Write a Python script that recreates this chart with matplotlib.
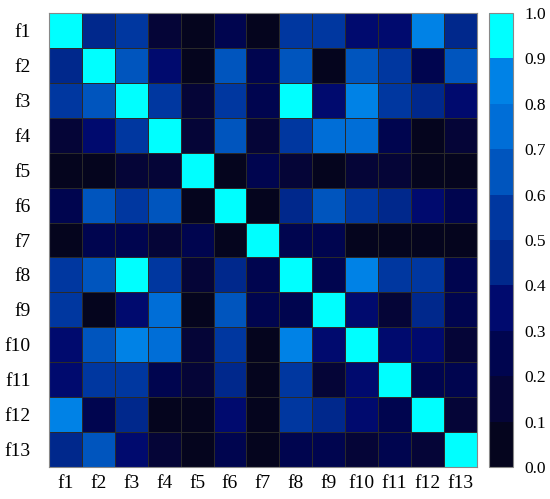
import numpy as np
import matplotlib
matplotlib.use("Agg")
import matplotlib.pyplot as plt
from matplotlib.colors import ListedColormap, BoundaryNorm

plt.rcParams['font.family'] = ['Liberation Serif', 'DejaVu Serif']

labels = ["f1", "f2", "f3", "f4", "f5", "f6", "f7", "f8", "f9", "f10", "f11", "f12", "f13"]

# correlation values (row by row)
corr = [
    [1.00, 0.42, 0.52, 0.15, 0.05, 0.25, 0.06, 0.55, 0.53, 0.33, 0.32, 0.82, 0.42],
    [0.42, 1.00, 0.63, 0.32, 0.05, 0.65, 0.30, 0.68, 0.04, 0.68, 0.56, 0.24, 0.65],
    [0.52, 0.63, 1.00, 0.55, 0.15, 0.50, 0.22, 0.95, 0.33, 0.83, 0.55, 0.45, 0.32],
    [0.15, 0.32, 0.55, 1.00, 0.15, 0.63, 0.18, 0.58, 0.75, 0.74, 0.22, 0.05, 0.12],
    [0.05, 0.05, 0.15, 0.15, 1.00, 0.05, 0.20, 0.15, 0.07, 0.12, 0.10, 0.06, 0.05],
    [0.25, 0.65, 0.50, 0.63, 0.05, 1.00, 0.07, 0.42, 0.66, 0.55, 0.42, 0.32, 0.30],
    [0.06, 0.30, 0.22, 0.18, 0.20, 0.07, 1.00, 0.20, 0.20, 0.05, 0.08, 0.08, 0.07],
    [0.55, 0.68, 0.95, 0.58, 0.15, 0.42, 0.20, 1.00, 0.22, 0.80, 0.52, 0.55, 0.30],
    [0.53, 0.04, 0.33, 0.75, 0.07, 0.66, 0.20, 0.22, 1.00, 0.32, 0.15, 0.47, 0.25],
    [0.33, 0.68, 0.83, 0.74, 0.12, 0.55, 0.05, 0.80, 0.32, 1.00, 0.32, 0.35, 0.15],
    [0.32, 0.56, 0.55, 0.22, 0.10, 0.42, 0.08, 0.52, 0.15, 0.32, 1.00, 0.25, 0.30],
    [0.82, 0.24, 0.45, 0.05, 0.06, 0.32, 0.08, 0.55, 0.47, 0.35, 0.25, 1.00, 0.15],
    [0.42, 0.65, 0.32, 0.12, 0.05, 0.30, 0.07, 0.30, 0.25, 0.15, 0.30, 0.15, 1.00],
]

# 10 discrete colour bands, 0.0 -> 1.0
band_colors = ["#05051e", "#050537", "#00054f", "#000a6e", "#00288c",
               "#0037a0", "#0055be", "#006ed7", "#0082e6", "#00ffff"]
bounds = np.linspace(0, 1, 11)

cmap = ListedColormap(band_colors)
norm = BoundaryNorm(bounds, cmap.N)

fig = plt.figure(figsize=(5.5, 4.99), dpi=100)
ax = fig.add_axes([0.089, 0.064, 0.778, 0.910])
cax = fig.add_axes([0.889, 0.064, 0.0436, 0.910])

data = np.array(corr)
n = len(labels)
mesh = ax.pcolormesh(np.arange(n + 1), np.arange(n + 1), data, cmap=cmap, norm=norm,
                     edgecolors="#2a2a2a", linewidth=0.4)
ax.set_xlim(0, n)
ax.set_ylim(n, 0)
ax.set_xticks(np.arange(n) + 0.5)
ax.set_xticklabels(labels)
ax.set_yticks(np.arange(n) + 0.5)
ax.set_yticklabels(labels)
ax.tick_params(length=0, labelsize=14)
ax.tick_params(axis="x", pad=6)
ax.tick_params(axis="y", pad=13)
for s in ax.spines.values():
    s.set_color("#888888")
    s.set_linewidth(0.8)

cb = fig.colorbar(mesh, cax=cax, ticks=bounds)
cb.ax.set_yticklabels(["%.1f" % b for b in bounds])
cb.ax.tick_params(length=0, labelsize=12.5, pad=8)
cb.outline.set_edgecolor("#888888")
cb.outline.set_linewidth(0.8)

fig.savefig("out.png", dpi=100)
